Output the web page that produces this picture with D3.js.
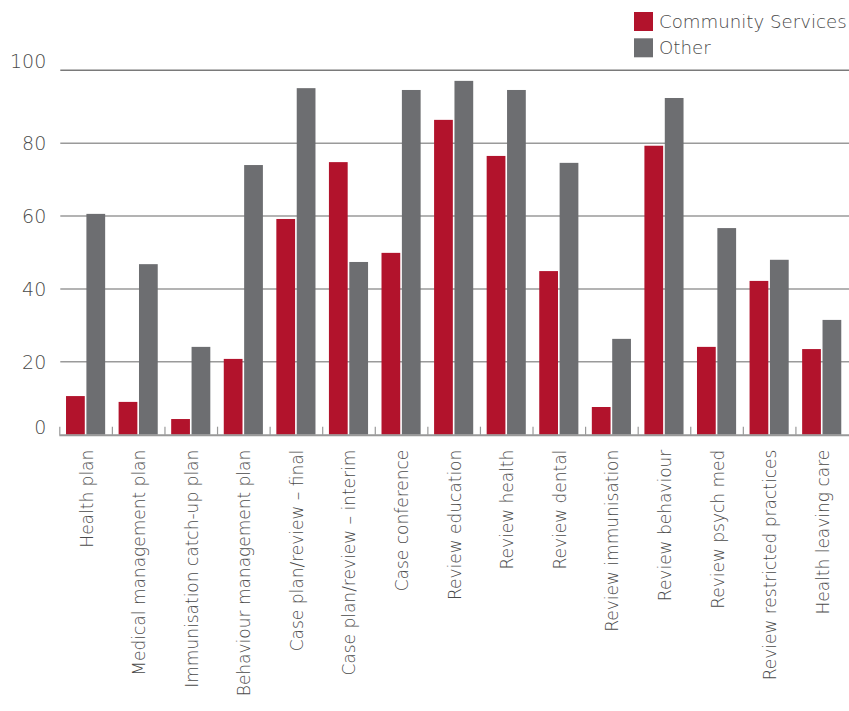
<!DOCTYPE html>
<html>
<head>
<meta charset="utf-8">
<script src="https://cdn.jsdelivr.net/npm/d3@7"></script>
<style>
  html, body { margin: 0; padding: 0; background: #fff; }
  svg { display: block; }
  text { font-family: "DejaVu Sans", sans-serif; font-weight: 200; }
</style>
</head>
<body>
<svg id="chart" width="849" height="711"></svg>
<script>
// Categories along the x axis
const categories = [
  "Health plan",
  "Medical management plan",
  "Immunisation catch-up plan",
  "Behaviour management plan",
  "Case plan/review \u2013 final",
  "Case plan/review \u2013 interim",
  "Case conference",
  "Review education",
  "Review health",
  "Review dental",
  "Review immunisation",
  "Review behaviour",
  "Review psych med",
  "Review restricted practices",
  "Health leaving care"
];

// Percentages per series
const communityServices = [10.6, 9.0, 4.3, 20.8, 59.2, 74.8, 49.9, 86.4, 76.5, 44.9, 7.6, 79.3, 24.1, 42.2, 23.5];
const other = [60.6, 46.8, 24.1, 74.0, 95.1, 47.4, 94.6, 97.1, 94.6, 74.6, 26.3, 92.4, 56.7, 48.0, 31.5];

const seriesNames = ["Community Services", "Other"];
const yTicks = [0, 20, 40, 60, 80, 100];

const colors = { "Community Services": "#B2132C", "Other": "#6D6E71" };

const svg = d3.select("#chart");
const margin = { left: 59.3, right: 1, top: 70.3, bottom: 276.3 };
const W = 849, H = 711;

const x = d3.scaleBand()
  .domain(categories)
  .range([margin.left, W - margin.right])
  .paddingInner(0)
  .paddingOuter(0);

const x1 = d3.scaleBand()
  .domain(seriesNames)
  .range([0, x.bandwidth()])
  .paddingInner(0.08)
  .paddingOuter(0.33);

const y = d3.scaleLinear().domain([0, 100]).range([H - margin.bottom, margin.top]);

// Gridlines
svg.append("g")
  .selectAll("line")
  .data(yTicks.filter(d => d > 0))
  .join("line")
  .attr("x1", margin.left + 1)
  .attr("x2", W)
  .attr("y1", d => y(d))
  .attr("y2", d => y(d))
  .attr("stroke", d => d === 100 ? "#7a7a7a" : "#9a9a9a")
  .attr("stroke-width", 1.5);

// Y axis labels
const yAxis = svg.append("g")
  .attr("transform", `translate(${margin.left - 13},0)`)
  .call(d3.axisLeft(y).tickValues(yTicks).tickSize(0).tickPadding(0));
yAxis.select(".domain").remove();
yAxis.selectAll("text")
  .attr("font-family", "\"DejaVu Sans\", sans-serif")
  .attr("font-weight", 200)
  .attr("font-size", 19)
  .attr("fill", "#4a4a4a")
  .attr("dy", d => d === 100 ? "-0.15em" : d === 0 ? "-0.05em" : "0.35em");

// Bars
const groups = svg.append("g")
  .selectAll("g")
  .data(categories.map((c, i) => ({ c, vals: [communityServices[i], other[i]] })))
  .join("g")
  .attr("transform", d => `translate(${x(d.c)},0)`);

groups.selectAll("rect")
  .data(d => d.vals.map((v, j) => ({ key: seriesNames[j], v })))
  .join("rect")
  .attr("x", d => x1(d.key))
  .attr("width", x1.bandwidth())
  .attr("y", d => y(d.v))
  .attr("height", d => y(0) - y(d.v))
  .attr("fill", d => colors[d.key]);

// X axis with short upward ticks at band boundaries
const baseY = y(0);
svg.append("line")
  .attr("x1", margin.left).attr("x2", W)
  .attr("y1", baseY + 0.5).attr("y2", baseY + 0.5)
  .attr("stroke", "#999").attr("stroke-width", 2);

svg.append("g")
  .selectAll("line")
  .data(categories)
  .join("line")
  .attr("x1", d => x(d) + 0.5)
  .attr("x2", d => x(d) + 0.5)
  .attr("y1", baseY - 8)
  .attr("y2", baseY)
  .attr("stroke", "#999")
  .attr("stroke-width", 1.2);

// Rotated category labels
svg.append("g")
  .selectAll("text")
  .data(categories)
  .join("text")
  .attr("transform", d => `translate(${x(d) + x.bandwidth() / 2 + 1},${baseY + 15}) rotate(-90)`)
  .attr("text-anchor", "end")
  .attr("dy", "0.35em")
  .attr("font-size", 17)
  .attr("fill", "#4a4a4a")
  .text(d => d);

// Legend
const legend = svg.append("g").attr("transform", "translate(634,12)");
legend.selectAll("g")
  .data(seriesNames)
  .join("g")
  .attr("transform", (d, i) => `translate(0,${i * 26.3})`)
  .call(g => {
    g.append("rect").attr("width", 19).attr("height", 19).attr("fill", d => colors[d]);
    g.append("text")
      .attr("x", 25).attr("y", 9.5).attr("dy", "0.35em")
      .attr("font-size", 18.2)
      .attr("fill", "#4a4a4a")
      .text(d => d);
  });
</script>
</body>
</html>
